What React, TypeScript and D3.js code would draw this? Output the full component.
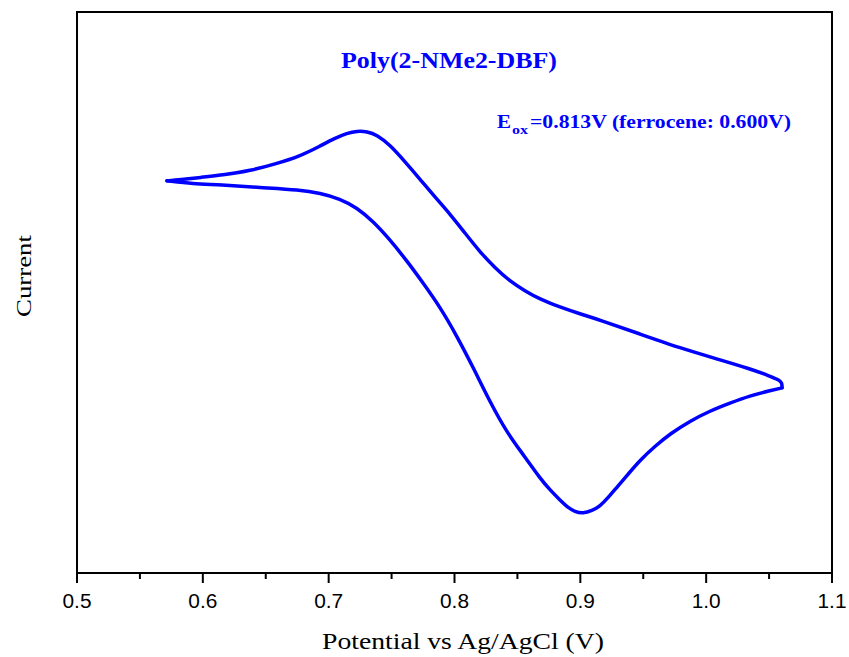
import React from "react";
import * as d3 from "d3";

// forward sweep (upper branch), left tip -> right tip
const forwardPotential = [
  0.5715, 0.5819, 0.5977, 0.6176, 0.6375, 0.6574, 0.6772, 0.6931, 0.705, 0.7146,
  0.7225, 0.7305, 0.7384, 0.7487, 0.7607, 0.7726, 0.7845, 0.7964, 0.8083, 0.8203,
  0.8322, 0.8441, 0.856, 0.8679, 0.8838, 0.8997, 0.9156, 0.9474, 0.9792, 1.011,
  1.0348, 1.0507, 1.0579, 1.0603, 1.0603,
];
const forwardCurrent = [
  6.99, 7.01, 7.05, 7.1, 7.17, 7.29, 7.43, 7.61, 7.75, 7.84,
  7.88, 7.87, 7.81, 7.63, 7.33, 7.02, 6.7, 6.4, 6.06, 5.72,
  5.44, 5.2, 5.03, 4.88, 4.74, 4.62, 4.51, 4.26, 4.01, 3.8,
  3.64, 3.51, 3.44, 3.39, 3.3,
];
// reverse sweep (lower branch), right tip -> left tip
const reversePotential = [
  1.0603, 1.0507, 1.0348, 1.0189, 1.0031, 0.9872, 0.9713, 0.9593, 0.9474, 0.9379,
  0.9291, 0.922, 0.9156, 0.9093, 0.9021, 0.8958, 0.8894, 0.8838, 0.8759, 0.8679,
  0.856, 0.8417, 0.8282, 0.8147, 0.802, 0.7885, 0.775, 0.7623, 0.7487, 0.7352,
  0.7225, 0.709, 0.6931, 0.6772, 0.6454, 0.6136, 0.5922, 0.5715,
];
const reverseCurrent = [
  3.3, 3.25, 3.16, 3.03, 2.89, 2.71, 2.48, 2.26, 2.01, 1.76,
  1.53, 1.34, 1.19, 1.11, 1.06, 1.09, 1.18, 1.3, 1.48, 1.69,
  2.07, 2.5, 3.05, 3.67, 4.22, 4.74, 5.17, 5.56, 5.94, 6.27,
  6.51, 6.67, 6.77, 6.83, 6.87, 6.92, 6.94, 6.99,
];

const xTicks = [0.5, 0.6, 0.7, 0.8, 0.9, 1.0, 1.1];
const xMinorTicks = [0.55, 0.65, 0.75, 0.85, 0.95, 1.05];

const serif = "'Liberation Serif', 'Times New Roman', serif";
const sans = "'Liberation Sans', Arial, sans-serif";

const App = () => {
  const width = 849;
  const height = 657;
  const left = 77;
  const right = 832;
  const top = 12;
  const bottom = 573;

  const xScale = d3.scaleLinear().domain([0.5, 1.1]).range([left, right]);
  // no numbers on the current axis, arbitrary units
  const yScale = d3.scaleLinear().domain([0, 10]).range([bottom, top]);

  const toPoints = (xs: number[], ys: number[]) =>
    xs.map((v, i) => [v, ys[i]] as [number, number]);

  const line = d3
    .line<[number, number]>()
    .x((d) => xScale(d[0]))
    .y((d) => yScale(d[1]))
    .curve(d3.curveBasis);

  const branches = [
    toPoints(forwardPotential, forwardCurrent),
    toPoints(reversePotential, reverseCurrent),
  ];

  const fmt = d3.format(".1f");
  const blue = "#0000ff";

  return (
    <svg
      width={width}
      height={height}
      style={{ position: "absolute", left: 0, top: 0, background: "#fff" }}
    >
      {/* CV curve */}
      {branches.map((b, i) => (
        <path
          key={i}
          d={line(b) || ""}
          fill="none"
          stroke={blue}
          strokeWidth={3.5}
          strokeLinejoin="round"
          strokeLinecap="round"
        />
      ))}

      {/* frame */}
      <rect
        x={left}
        y={top}
        width={right - left}
        height={bottom - top}
        fill="none"
        stroke="#000"
        strokeWidth={2}
      />

      {/* x axis ticks */}
      {xTicks.map((t) => (
        <g key={t} transform={`translate(${xScale(t)},${bottom})`}>
          <line y1={0} y2={10} stroke="#000" strokeWidth={2} />
          <text
            x={-14.5}
            y={35}
            textLength={29}
            lengthAdjust="spacingAndGlyphs"
            fontFamily={sans}
            fontSize={20}
            fill="#000"
          >
            {fmt(t)}
          </text>
        </g>
      ))}
      {xMinorTicks.map((t) => (
        <line
          key={t}
          x1={xScale(t)}
          x2={xScale(t)}
          y1={bottom}
          y2={bottom + 6}
          stroke="#000"
          strokeWidth={2}
        />
      ))}

      {/* axis titles */}
      <text
        x={322}
        y={649}
        textLength={282}
        lengthAdjust="spacingAndGlyphs"
        fontFamily={serif}
        fontSize={23}
        fill="#000"
      >
        Potential vs Ag/AgCl (V)
      </text>
      <text
        transform={`translate(31,317) rotate(-90)`}
        textLength={82}
        lengthAdjust="spacingAndGlyphs"
        fontFamily={serif}
        fontSize={22}
        fill="#000"
      >
        Current
      </text>

      {/* annotations */}
      <text
        x={341}
        y={68}
        textLength={216}
        lengthAdjust="spacingAndGlyphs"
        fontFamily={serif}
        fontWeight="bold"
        fontSize={22.5}
        fill={blue}
      >
        Poly(2-NMe2-DBF)
      </text>
      <g fontFamily={serif} fontWeight="bold" fill={blue}>
        <text x={497} y={128} fontSize={19} textLength={14} lengthAdjust="spacingAndGlyphs">
          E
        </text>
        <text x={512} y={134} fontSize={13} textLength={16} lengthAdjust="spacingAndGlyphs">
          ox
        </text>
        <text x={530} y={128} fontSize={19} textLength={261} lengthAdjust="spacingAndGlyphs">
          =0.813V (ferrocene: 0.600V)
        </text>
      </g>
    </svg>
  );
};

export default App;
